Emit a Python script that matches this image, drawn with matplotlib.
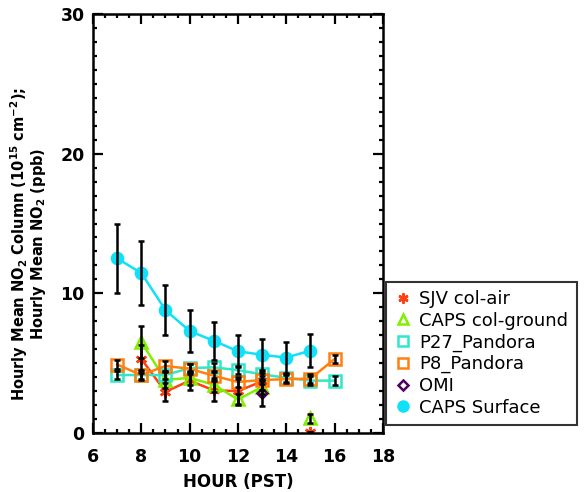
import numpy as np
import matplotlib
matplotlib.use('Agg')
from matplotlib import pyplot as plt
from matplotlib.lines import Line2D

plt.rcParams['font.family'] = ['DejaVu Sans']

nan = np.nan
hours = [7, 8, 9, 10, 11, 12, 13, 14, 15, 16]

#SJV col-air
sjv = [nan, 5.3, 2.95, 3.75, 3.05, 3.0, 3.7, nan, 0.1, nan]
sjv_err = [nan, 1.0, 0.65, 0.65, 0.75, 0.9, 0.6, nan, 0.0, nan]
#CAPS col-ground
capsg = [nan, 6.5, 3.8, 3.95, 3.45, 2.4, 3.3, nan, 1.05, nan]
capsg_err = [nan, 1.15, 0.6, 0.5, 0.5, 0.4, 0.5, nan, 0.3, nan]
#P27 Pandora
p27 = [4.15, 4.15, 4.15, 4.65, 4.7, 4.5, 4.2, 3.95, 3.75, 3.75]
p27_err = [0.3, 0.3, 0.3, 0.3, 0.3, 0.3, 0.3, 0.3, 0.3, 0.3]
#P8 Pandora
p8 = [4.9, 4.15, 4.8, 4.6, 4.1, 3.65, 3.8, 3.85, 3.9, 5.3]
p8_err = [0.35, 0.35, 0.35, 0.35, 0.35, 0.35, 0.3, 0.3, 0.3, 0.3]
#OMI
omi = [nan, nan, nan, nan, nan, nan, 2.85, nan, nan, nan]
omi_err = [nan, nan, nan, nan, nan, nan, 0.9, nan, nan, nan]
#CAPS surface
capss = [12.5, 11.45, 8.8, 7.3, 6.6, 5.85, 5.6, 5.4, 5.9, nan]
capss_err = [2.5, 2.3, 1.8, 1.5, 1.35, 1.15, 1.15, 1.1, 1.2, nan]

c_sjv = '#ff4010'
c_capsg = '#80f000'
c_p27 = '#30e8c8'
c_p8 = '#ff8010'
c_omi = '#500060'
c_capss = '#10e0f8'
asterisco = (6, 2, 0)

fig = plt.figure(figsize=(5.86, 4.92), dpi=100)
ax = fig.add_axes([93/586, 1-433/492, 290/586, 419/492])

serie = [
    (sjv, sjv_err, c_sjv, asterisco, 'none', 8, 'SJV col-air'),
    (capsg, capsg_err, c_capsg, '^', 'none', 8, 'CAPS col-ground'),
    (p27, p27_err, c_p27, 's', 'none', 8, 'P27_Pandora'),
    (p8, p8_err, c_p8, 's', 'none', 8, 'P8_Pandora'),
    (omi, omi_err, c_omi, 'D', 'none', 5.5, 'OMI'),
    (capss, capss_err, c_capss, 'o', c_capss, 8, 'CAPS Surface'),
]

handles = []
for y, e, col, m, fc, ms, lab in serie:
    ax.plot(hours, y, color=col, lw=1.8, marker=m, ms=ms, mfc=fc, mec=col, mew=1.8, zorder=2)
    handles.append(Line2D([], [], ls='none', marker=m, ms=ms*0.9, mfc=fc, mec=col, mew=1.8, label=lab))

#barre di errore nere sopra ai simboli
for y, e, col, m, fc, ms, lab in serie:
    ax.errorbar(hours, y, yerr=e, fmt='none', ecolor='black', elinewidth=1.8, capsize=2.5, capthick=1.8, zorder=3)

ax.set_xlim(6, 18)
ax.set_ylim(0, 30)
ax.set_xticks(range(6, 19, 2))
ax.set_xticks(np.arange(6, 18.01, 0.5), minor=True)
ax.set_yticks([0, 10, 20, 30])
ax.set_yticks(range(0, 31), minor=True)
ax.tick_params(which='both', direction='in', top=True, right=True, width=1.6)
ax.tick_params(which='major', length=7, labelsize=12.5)
ax.tick_params(axis='x', which='major', pad=11)
ax.tick_params(axis='y', which='major', pad=6)
ax.tick_params(which='minor', length=3)
for lbl in ax.get_xticklabels() + ax.get_yticklabels():
    lbl.set_fontweight('bold')
for s in ax.spines.values():
    s.set_linewidth(1.8)

ax.set_xlabel('HOUR (PST)', fontsize=12, fontweight='bold', labelpad=5)
fig.text(19/586, 1-244/492, 'Hourly Mean NO$_\\mathbf{2}$ Column (10$^{\\mathbf{15}}$ cm$^{\\mathbf{-2}}$);',
         rotation=90, ha='center', va='center', fontsize=10.5, fontweight='bold')
fig.text(39/586, 1-244/492, 'Hourly Mean NO$_\\mathbf{2}$ (ppb)',
         rotation=90, ha='center', va='center', fontsize=10.5, fontweight='bold')

leg = fig.legend(handles=handles, loc='upper left', bbox_to_anchor=(386/586, 1-282/492),
                 fontsize=13, frameon=True, fancybox=False, edgecolor='black',
                 handlelength=1.0, handletextpad=0.4, labelspacing=0.2, borderpad=0.45,
                 borderaxespad=0)
leg.get_frame().set_linewidth(1.5)

plt.savefig('out.png', dpi=100)
plt.close()
